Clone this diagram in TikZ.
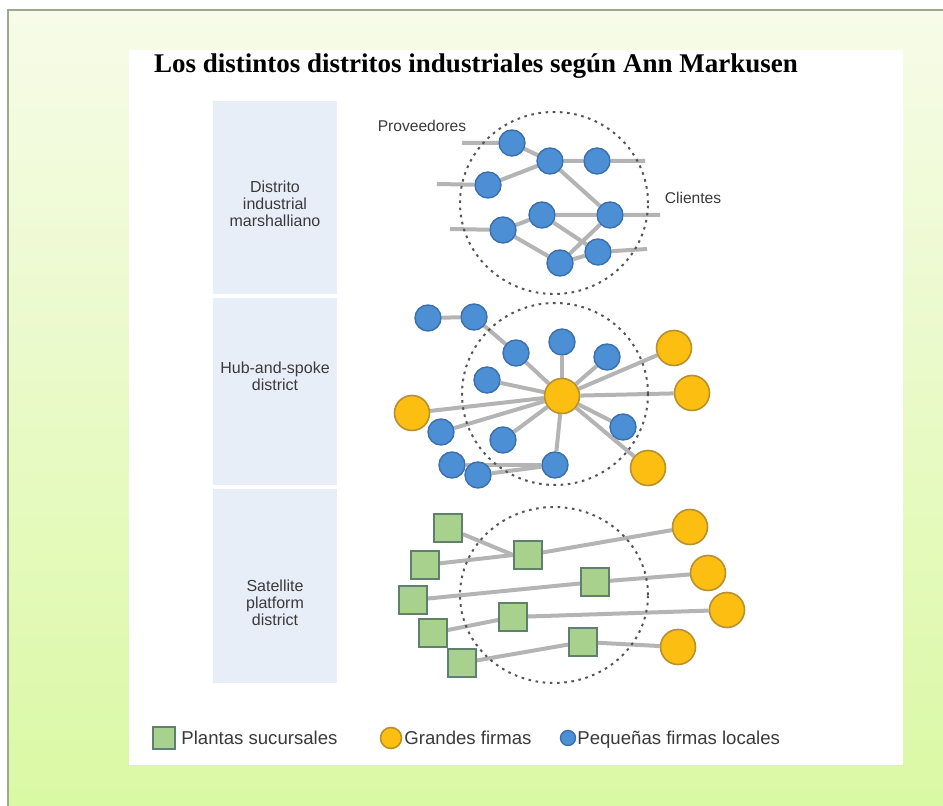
\documentclass[tikz,border=0pt]{standalone}
\usepackage{fontspec}
\setmainfont{Liberation Serif}
\setsansfont{Liberation Sans}
\usetikzlibrary{backgrounds}

\definecolor{bgtop}{HTML}{F7FBE8}
\definecolor{bgbot}{HTML}{DAF9A4}
\definecolor{framegray}{HTML}{9FA78F}
\definecolor{rowfill}{HTML}{E8EEF8}
\definecolor{smallfill}{HTML}{4D8FD5}
\definecolor{smallline}{HTML}{3A70AE}
\definecolor{bigfill}{HTML}{FDBE12}
\definecolor{bigline}{HTML}{B8902C}
\definecolor{plantfill}{HTML}{A8D18D}
\definecolor{plantline}{HTML}{5E806C}
\definecolor{linkgray}{HTML}{B4B4B4}
\definecolor{zonegray}{HTML}{555555}
\definecolor{labeltext}{HTML}{3A3A3A}

\begin{document}
\begin{tikzpicture}[x=0.5pt, y=-0.5pt,
    small/.style={circle, draw=smallline, fill=smallfill, line width=0.7pt, minimum size=13pt, inner sep=0pt},
    big/.style={circle, draw=bigline, fill=bigfill, line width=0.8pt, minimum size=17.5pt, inner sep=0pt},
    plant/.style={rectangle, draw=plantline, fill=plantfill, line width=0.8pt, minimum size=14pt, inner sep=0pt},
    link/.style={draw=linkgray, line width=2pt},
    zone/.style={draw=zonegray, line width=1pt, dash pattern=on 1.3pt off 2.3pt},
    rowlabel/.style={font=\sffamily\fontsize{8}{8.6}\selectfont, text=labeltext, align=center},
    sidelabel/.style={font=\sffamily\fontsize{7.8}{9}\selectfont, text=labeltext},
    legendtext/.style={font=\sffamily\fontsize{9.3}{11}\selectfont, text=labeltext, anchor=base west, inner sep=0pt}]
    \useasboundingbox (0,0) rectangle (943,806);
    \begin{pgfonlayer}{background}
        \fill[white] (0,0) rectangle (943,806);
        \shade[top color=bgtop, bottom color=bgbot] (8,10) rectangle (943,806);
        \draw[framegray, line width=0.8pt] (8,806) -- (8,10) -- (943,10);
        \fill[white] (129,50) rectangle (903,765);
        \fill[rowfill] (213,101) rectangle (337,294);
        \fill[rowfill] (213,298) rectangle (337,485);
        \fill[rowfill] (213,489) rectangle (337,683);
    \end{pgfonlayer}

    \node(title) at(476, 73) [anchor=base] {\bfseries\fontsize{13.5}{16}\selectfont Los distintos distritos industriales según Ann Markusen};

    % row labels
    \node(row_m) at(275, 204) [rowlabel] {Distrito\\industrial\\marshalliano};
    \node(row_h) at(275, 376) [rowlabel] {Hub-and-spoke\\district};
    \node(row_s) at(275, 603) [rowlabel] {Satellite\\platform\\district};

    % zones
    \draw[zone] (554, 203) ellipse [x radius=47pt, y radius=45.5pt];
    \draw[zone] (555, 394) ellipse [x radius=46.5pt, y radius=45.5pt];
    \draw[zone] (554, 595) ellipse [x radius=47pt, y radius=44pt];

    % marshallian district
    \node(prov) at(422, 126) [sidelabel] {Proveedores};
    \node(clie) at(693, 198) [sidelabel] {Clientes};
    \node(m_a) at(512, 143) [small] {};
    \node(m_b) at(550, 161) [small] {};
    \node(m_c) at(597, 161) [small] {};
    \node(m_d) at(488, 185) [small] {};
    \node(m_e) at(542, 215) [small] {};
    \node(m_f) at(610, 215) [small] {};
    \node(m_g) at(503, 230) [small] {};
    \node(m_h) at(598, 252) [small] {};
    \node(m_i) at(560, 263) [small] {};
    \coordinate(m_in1) at(462, 143);
    \coordinate(m_in2) at(437, 184);
    \coordinate(m_in3) at(450, 229);
    \coordinate(m_out1) at(645, 161);
    \coordinate(m_out2) at(660, 215);
    \coordinate(m_out3) at(647, 249);

    % hub-and-spoke district
    \node(h_1) at(428, 318) [small] {};
    \node(h_2) at(474, 317) [small] {};
    \node(h_3) at(516, 353) [small] {};
    \node(h_4) at(562, 342) [small] {};
    \node(h_5) at(607, 357) [small] {};
    \node(h_6) at(487, 380) [small] {};
    \node(h_7) at(441, 432) [small] {};
    \node(h_8) at(503, 440) [small] {};
    \node(h_9) at(623, 427) [small] {};
    \node(h_10) at(452, 465) [small] {};
    \node(h_11) at(478, 475) [small] {};
    \node(h_12) at(555, 465) [small] {};
    \node(h_hub) at(562, 396) [big] {};
    \node(h_y1) at(674, 348) [big] {};
    \node(h_y2) at(692, 393) [big] {};
    \node(h_y3) at(412, 413) [big] {};
    \node(h_y4) at(648, 468) [big] {};

    % satellite platform district
    \node(s_1) at(448, 528) [plant] {};
    \node(s_2) at(425, 565) [plant] {};
    \node(s_3) at(528, 555) [plant] {};
    \node(s_4) at(595, 582) [plant] {};
    \node(s_5) at(413, 600) [plant] {};
    \node(s_6) at(513, 617) [plant] {};
    \node(s_7) at(433, 633) [plant] {};
    \node(s_8) at(583, 642) [plant] {};
    \node(s_9) at(462, 663) [plant] {};
    \node(s_y1) at(690, 527) [big] {};
    \node(s_y2) at(708, 573) [big] {};
    \node(s_y3) at(727, 610) [big] {};
    \node(s_y4) at(678, 647) [big] {};

    % legend
    \node(leg_pl) at(164, 738) [plant, minimum size=11pt] {};
    \node(leg_pl_t) at(181, 745) [legendtext] {Plantas sucursales};
    \node(leg_gf) at(391, 738) [big, minimum size=10.5pt] {};
    \node(leg_gf_t) at(404, 745) [legendtext] {Grandes firmas};
    \node(leg_pf) at(568, 738) [small, minimum size=7.5pt] {};
    \node(leg_pf_t) at(577, 745) [legendtext] {Pequeñas firmas locales};

    \begin{pgfonlayer}{background}
        \draw[link] (m_in1) -- (m_a) -- (m_b) -- (m_c) -- (m_out1);
        \draw[link] (m_in2) -- (m_d) -- (m_b) -- (m_f) -- (m_out2);
        \draw[link] (m_in3) -- (m_g) -- (m_e) -- (m_f);
        \draw[link] (m_g) -- (m_i) -- (m_h) -- (m_out3);
        \draw[link] (m_e) -- (m_h);
        \draw[link] (m_i) -- (m_f);

        \draw[link] (h_1) -- (h_2) -- (h_3) -- (h_hub);
        \draw[link] (h_4) -- (h_hub);
        \draw[link] (h_5) -- (h_hub);
        \draw[link] (h_6) -- (h_hub);
        \draw[link] (h_hub) -- (h_y1);
        \draw[link] (h_hub) -- (h_y2);
        \draw[link] (h_y3) -- (h_hub);
        \draw[link] (h_7) -- (h_hub);
        \draw[link] (h_8) -- (h_hub);
        \draw[link] (h_hub) -- (h_9);
        \draw[link] (h_hub) -- (h_y4);
        \draw[link] (h_hub) -- (h_12);
        \draw[link] (h_10) -- (h_12);
        \draw[link] (h_11) -- (h_12);

        \draw[link] (s_1) -- (s_3.west);
        \draw[link] (s_2) -- (s_3.west);
        \draw[link] (s_3) -- (s_y1);
        \draw[link] (s_5) -- (s_4) -- (s_y2);
        \draw[link] (s_7) -- (s_6) -- (s_y3);
        \draw[link] (s_9) -- (s_8) -- (s_y4);
    \end{pgfonlayer}
\end{tikzpicture}
\end{document}
